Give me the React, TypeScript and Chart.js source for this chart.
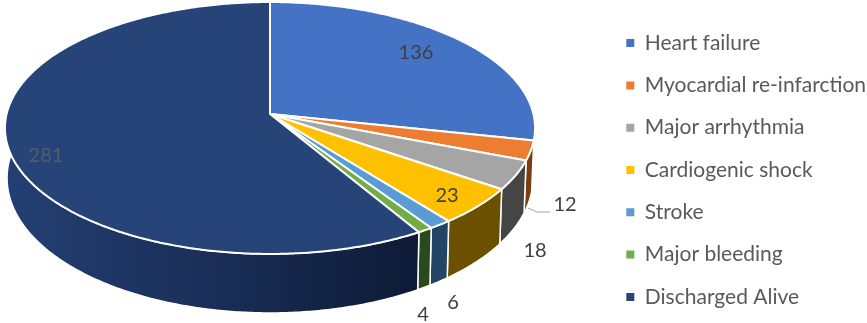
import React, { useEffect, useRef } from "react";
import { Chart, registerables } from "chart.js";

Chart.register(...registerables);

const categories = [
  "Heart failure",
  "Myocardial re-infarction",
  "Major arrhythmia",
  "Cardiogenic shock",
  "Stroke",
  "Major bleeding",
  "Discharged Alive",
];
const patients = [136, 12, 18, 23, 6, 4, 281];
const topColors = ["#4472c4", "#ed7d31", "#a5a5a5", "#ffc000", "#5b9bd5", "#70ad47", "#264478"];
const wallColors = ["#264478", "#7a3d10", "#454545", "#6b5000", "#234565", "#2a4a1e", "#1b2f58"];
const labelColors = ["#404040", "#404040", "#404040", "#404040", "#404040", "#404040", "#555b6c"];
const labelSpots: [number, number][] = [
  [416, 53],
  [565, 205],
  [535, 251],
  [447, 196],
  [453, 303],
  [423, 315],
  [46, 156],
];

const FONT = "Lato, 'Open Sans', sans-serif";
const CX = 270;
const CY = 114;
const PERSPECTIVE = 1 / 9;
const HALF_X = 263.4;
const HALF_Y = 124.4;

function rim(angle: number): [number, number, number] {
  const t = angle + Math.PI / 2;
  const u = Math.sin(t);
  const v = -Math.cos(t);
  const w = 1 - PERSPECTIVE * v;
  return [CX + (HALF_X * u) / w, CY + (HALF_Y * v) / w, v];
}
function floorRim(angle: number): [number, number] {
  const [x, y, v] = rim(angle);
  return [CX + 0.992 * (x - CX), y + 49 + 10 * v];
}
function steps(a0: number, a1: number): number[] {
  const n = Math.max(2, Math.ceil((a1 - a0) / 0.01));
  const out: number[] = [];
  for (let i = 0; i <= n; i++) out.push(a0 + ((a1 - a0) * i) / n);
  return out;
}

const pie3d = {
  id: "pie3d",
  afterLayout(chart: any) {
    // legend block sits flush with the right edge, as in the reference
    chart.legend.left += 11;
    chart.legend.right += 11;
    chart.legend.top += 8.5;
    chart.legend.bottom += 8.5;
  },
  beforeDatasetDraw(chart: any, args: any) {
    const ctx: CanvasRenderingContext2D = chart.ctx;
    const arcs = args.meta.data;
    ctx.save();
    ctx.lineJoin = "round";
    // side wall
    arcs.forEach((el: any, i: number) => {
      const angles = steps(el.startAngle, el.endAngle);
      ctx.beginPath();
      angles.forEach((a, k) => {
        const [x, y] = rim(a);
        if (k === 0) ctx.moveTo(x, y);
        else ctx.lineTo(x, y);
      });
      [...angles].reverse().forEach((a) => {
        const [x, y] = floorRim(a);
        ctx.lineTo(x, y);
      });
      ctx.closePath();
      if (i === arcs.length - 1) {
        const g = ctx.createLinearGradient(5, 0, 420, 0);
        g.addColorStop(0, "#233f73");
        g.addColorStop(0.45, "#1b305a");
        g.addColorStop(1, "#0d1a36");
        ctx.fillStyle = g;
      } else {
        ctx.fillStyle = wallColors[i];
      }
      ctx.fill();
      ctx.strokeStyle = "#ffffff";
      ctx.lineWidth = 1.5;
      ctx.stroke();
    });
    // top surface
    arcs.forEach((el: any, i: number) => {
      ctx.beginPath();
      ctx.moveTo(CX, CY);
      steps(el.startAngle, el.endAngle).forEach((a) => {
        const [x, y] = rim(a);
        ctx.lineTo(x, y);
      });
      ctx.closePath();
      ctx.fillStyle = topColors[i];
      ctx.fill();
      ctx.strokeStyle = "#ffffff";
      ctx.lineWidth = 2;
      ctx.stroke();
    });
    ctx.restore();
    return false;
  },
  afterDatasetsDraw(chart: any) {
    const ctx: CanvasRenderingContext2D = chart.ctx;
    ctx.save();
    // leader line of the smallest outside label
    ctx.strokeStyle = "#a6a6a6";
    ctx.lineWidth = 1;
    ctx.beginPath();
    ctx.moveTo(528, 208);
    ctx.lineTo(537, 212);
    ctx.lineTo(550, 212);
    ctx.stroke();
    ctx.font = `20px ${FONT}`;
    ctx.textAlign = "center";
    ctx.textBaseline = "middle";
    patients.forEach((p, i) => {
      ctx.fillStyle = labelColors[i];
      ctx.fillText(String(p), labelSpots[i][0], labelSpots[i][1]);
    });
    ctx.restore();
  },
};

export default function App() {
  const ref = useRef<HTMLCanvasElement>(null);
  useEffect(() => {
    document.body.style.margin = "0";
    const chart = new Chart(ref.current!, {
      type: "pie",
      data: {
        labels: categories,
        datasets: [{ data: patients, backgroundColor: topColors, borderWidth: 0 }],
      },
      options: {
        responsive: false,
        animation: false,
        layout: { padding: { right: 2 } },
        plugins: {
          tooltip: { enabled: false },
          legend: {
            position: "right",
            labels: {
              boxWidth: 8,
              boxHeight: 8,
              padding: 21.3,
              color: "#595959",
              font: { family: FONT, size: 21 },
            },
          },
        },
      },
      plugins: [pie3d],
    } as any);
    return () => chart.destroy();
  }, []);
  return <canvas ref={ref} width={867} height={323} style={{ display: "block" }} />;
}
